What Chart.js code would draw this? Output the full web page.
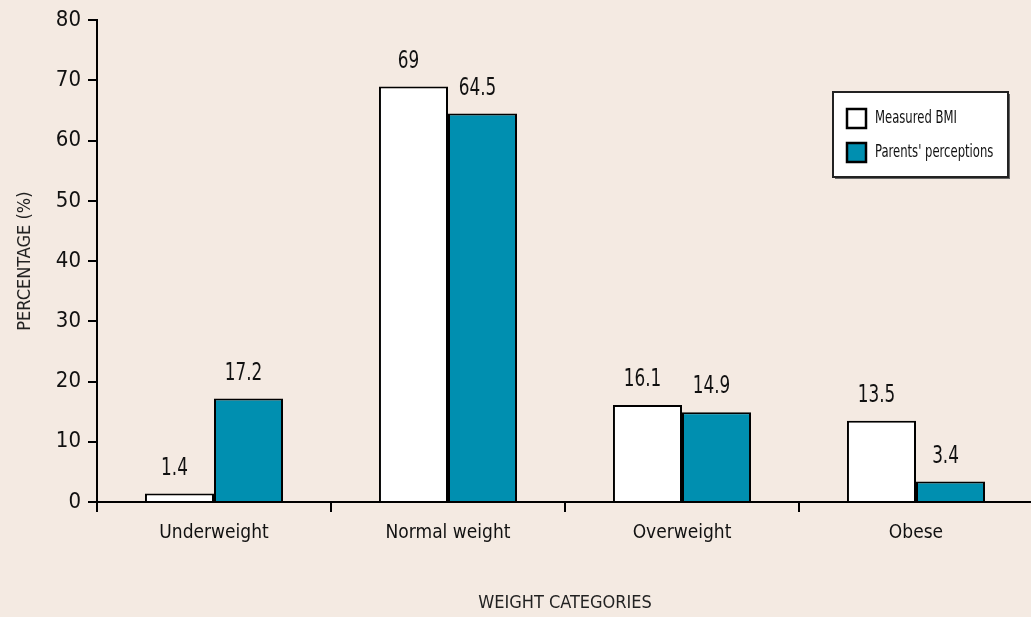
<!DOCTYPE html>
<html>
<head>
<meta charset="utf-8">
<script src="https://cdn.jsdelivr.net/npm/chart.js@4"></script>
<style>
  html, body { margin: 0; padding: 0; background: #f4eae2; overflow: hidden; }
  #wrap { width: 1035px; height: 617px; position: relative; }
</style>
</head>
<body>
<div id="wrap"><canvas id="chart"></canvas></div>
<script>
const categories = ['Underweight', 'Normal weight', 'Overweight', 'Obese'];
const measuredBmi = [1.4, 69, 16.1, 13.5];
const parentsPerceptions = [17.2, 64.5, 14.9, 3.4];
const seriesNames = ['Measured BMI', "Parents' perceptions"];

const FONT = "'Liberation Sans Narrow', 'DejaVu Sans Condensed', sans-serif";

// draws text squeezed horizontally, closer to the condensed face of the original
function narrowText(ctx, text, x, y, squeeze) {
  ctx.save();
  ctx.translate(x, y);
  ctx.scale(squeeze, 1);
  ctx.fillText(text, 0, 0);
  ctx.restore();
}

// value labels above each bar
const valueLabels = {
  id: 'valueLabels',
  afterDatasetsDraw(chart) {
    const ctx = chart.ctx;
    ctx.save();
    ctx.font = '24px ' + FONT;
    ctx.fillStyle = '#111';
    ctx.textAlign = 'center';
    ctx.textBaseline = 'bottom';
    chart.data.datasets.forEach((ds, i) => {
      chart.getDatasetMeta(i).data.forEach((bar, j) => {
        narrowText(ctx, String(ds.data[j]), bar.x - 5, bar.y - 13, 0.78);
      });
    });
    ctx.restore();
  }
};

// boxed legend in the upper right
const boxLegend = {
  id: 'boxLegend',
  afterDraw(chart) {
    const ctx = chart.ctx;
    const x = 833, y = 92, w = 175, h = 85;
    ctx.save();
    ctx.fillStyle = '#666';
    ctx.fillRect(x + 2, y + 2, w, h);
    ctx.fillStyle = '#fff';
    ctx.fillRect(x, y, w, h);
    ctx.strokeStyle = '#222';
    ctx.lineWidth = 2;
    ctx.strokeRect(x, y, w, h);
    ctx.font = '17px ' + FONT;
    ctx.textBaseline = 'middle';
    chart.data.datasets.forEach((ds, i) => {
      const sy = y + 17 + i * 34;
      ctx.fillStyle = ds.backgroundColor;
      ctx.fillRect(x + 14, sy, 19, 19);
      ctx.strokeStyle = '#000';
      ctx.lineWidth = 2.5;
      ctx.strokeRect(x + 14, sy, 19, 19);
      ctx.fillStyle = '#111';
      narrowText(ctx, ds.label, x + 42, sy + 10, 0.76);
    });
    ctx.restore();
  }
};

new Chart(document.getElementById('chart'), {
  type: 'bar',
  data: {
    labels: categories,
    datasets: [
      { label: seriesNames[0], data: measuredBmi, backgroundColor: '#ffffff', borderColor: '#000', borderWidth: 2 },
      { label: seriesNames[1], data: parentsPerceptions, backgroundColor: '#008fb0', borderColor: '#000', borderWidth: 2 }
    ]
  },
  options: {
    responsive: true,
    maintainAspectRatio: false,
    animation: false,
    layout: { padding: { top: 19, right: 2, left: 0, bottom: 0 } },
    datasets: { bar: { barPercentage: 1, categoryPercentage: 0.59 } },
    plugins: { legend: { display: false }, tooltip: { enabled: false } },
    scales: {
      x: {
        grid: { offset: true, drawOnChartArea: false, drawTicks: true, tickLength: 10, color: '#000', lineWidth: 2 },
        border: { display: true, color: '#000', width: 2 },
        ticks: { color: '#111', font: { family: FONT, size: 19 }, padding: 10 },
        title: { display: true, text: 'WEIGHT CATEGORIES', color: '#222', font: { family: FONT, size: 18 }, padding: { top: 0, bottom: 3 } },
        afterFit(scale) { scale.height = 115; }
      },
      y: {
        min: 0, max: 80,
        ticks: { stepSize: 10, color: '#111', font: { family: FONT, size: 22 }, padding: 7 },
        grid: { drawOnChartArea: false, drawTicks: true, tickLength: 9, color: '#000', lineWidth: 2 },
        border: { display: true, color: '#000', width: 2 },
        title: { display: true, text: 'PERCENTAGE (%)', color: '#222', font: { family: FONT, size: 18 }, padding: { top: 15, bottom: 15 } },
        afterFit(scale) { scale.width = 97; }
      }
    }
  },
  plugins: [valueLabels, boxLegend]
});
</script>
</body>
</html>
